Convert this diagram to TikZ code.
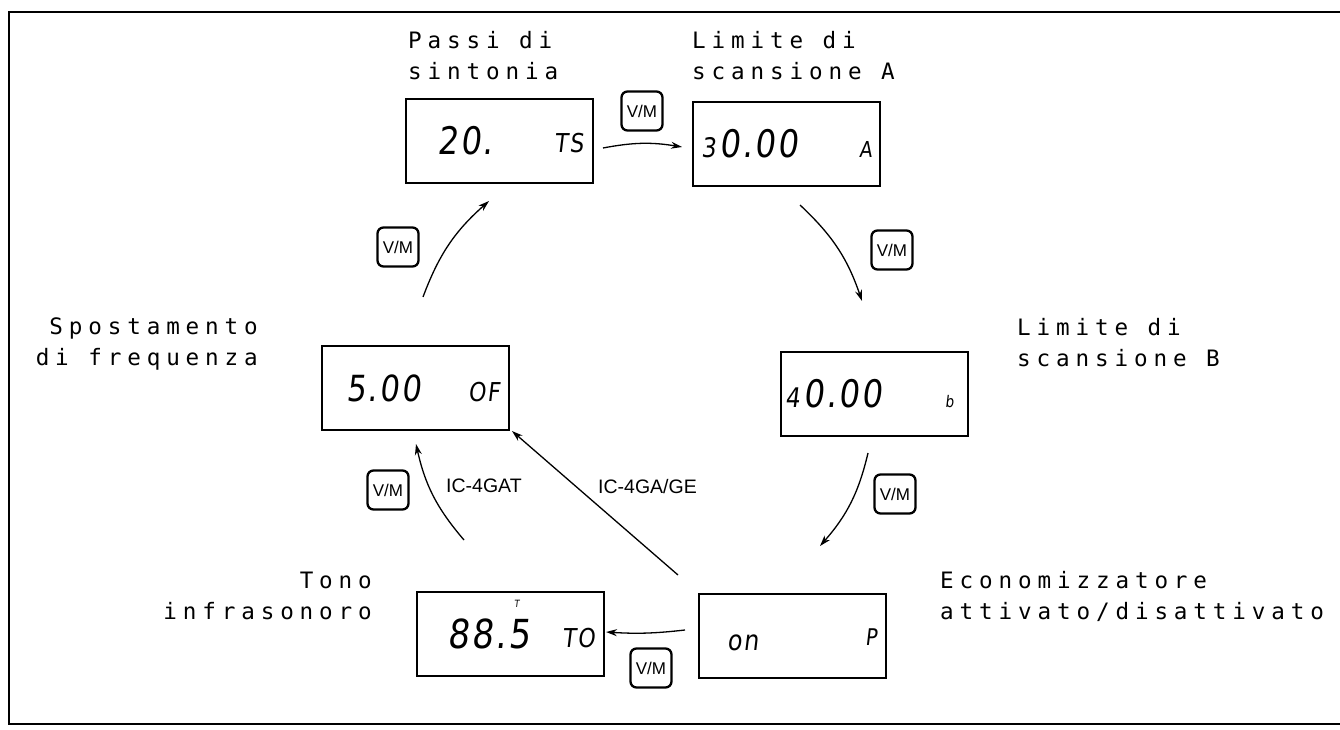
\documentclass[tikz,border=0pt]{standalone}
\usepackage{fontspec}
\usetikzlibrary{arrows.meta}
\newfontfamily\labfont[LetterSpace=26]{DejaVu Sans Mono}
\newfontfamily\lcdfont[FakeSlant=0.12,FakeStretch=0.85,LetterSpace=6]{DejaVu Sans}
\newfontfamily\helv{Liberation Sans}
\begin{document}
\begin{tikzpicture}[x=1pt,y=-1pt,
  lcdbox/.style={draw, line width=2pt, minimum width=187pt, minimum height=84pt, inner sep=0pt},
  lbl/.style={font=\labfont\fontsize{22.6}{26}\selectfont, inner sep=0pt},
  lcd/.style={inner sep=0pt, anchor=base west},
  vmbtn/.style={draw, line width=2.3pt, rounded corners=6pt, minimum width=41pt, minimum height=39pt, inner sep=0pt, font=\helv\fontsize{17}{17}\selectfont},
  conn/.style={line width=1.3pt, -{Stealth[length=11pt,width=7pt]}},
  model/.style={inner sep=0pt, anchor=base west, font=\helv\fontsize{19.5}{20}\selectfont}]
\useasboundingbox (0,0) rectangle (1340,730);
\draw[line width=2pt] (1340,12) -- (9,12) -- (9,724) -- (1340,724);

% display boxes
\node[lcdbox] (ts) at (499,141.5) {};
\node[lcdbox] (a)  at (786,144) {};
\node[lcdbox] (b)  at (874,393.5) {};
\node[lcdbox] (of) at (415.5,388) {};
\node[lcdbox] (to) at (510,633.5) {};
\node[lcdbox] (p)  at (792,635.5) {};

% display contents
\node[lcd, font=\lcdfont\fontsize{38}{38}\selectfont] (tsv) at (437,155) {20.};
\node[lcd, font=\lcdfont\fontsize{26}{26}\selectfont] (tsl) at (554,153) {TS};
\node[lcd, font=\lcdfont\fontsize{27}{27}\selectfont] (av1) at (701,158) {3};
\node[lcd, font=\lcdfont\fontsize{38}{38}\selectfont] (av2) at (719,158) {0.00};
\node[lcd, font=\lcdfont\fontsize{22}{22}\selectfont] (al) at (859,158) {A};
\node[lcd, font=\lcdfont\fontsize{27}{27}\selectfont] (bv1) at (785,407) {4};
\node[lcd, font=\lcdfont\fontsize{38}{38}\selectfont] (bv2) at (803,407) {0.00};
\node[lcd, font=\lcdfont\fontsize{16}{16}\selectfont] (bl) at (945,407) {b};
\node[lcd, font=\lcdfont\fontsize{36}{36}\selectfont] (ofv) at (346,401) {5.00};
\node[lcd, font=\lcdfont\fontsize{26}{26}\selectfont] (ofl) at (468,401) {OF};
\node[lcd, font=\lcdfont\fontsize{40}{40}\selectfont] (tov) at (447,648) {88.5};
\node[lcd, font=\lcdfont\fontsize{26}{26}\selectfont] (tol) at (562,647) {TO};
\node[lcd, font=\lcdfont\fontsize{10}{10}\selectfont] (tot) at (514,607) {T};
\node[lcd, font=\lcdfont\fontsize{28}{28}\selectfont] (pv) at (727,650) {on};
\node[lcd, font=\lcdfont\fontsize{23}{23}\selectfont] (pl) at (865,645) {P};

% labels
\node[lbl, anchor=base west] (l1a) at (408,49) {Passi di};
\node[lbl, anchor=base west] (l1b) at (408,80) {sintonia};
\node[lbl, anchor=base west] (l2a) at (692,49) {Limite di};
\node[lbl, anchor=base west] (l2b) at (692,80) {scansione A};
\node[lbl, anchor=base east] (l3a) at (258,334) {Spostamento};
\node[lbl, anchor=base east] (l3b) at (258,365) {di frequenza};
\node[lbl, anchor=base west] (l4a) at (1017,335) {Limite di};
\node[lbl, anchor=base west] (l4b) at (1017,366) {scansione B};
\node[lbl, anchor=base east] (l5a) at (372,588) {Tono};
\node[lbl, anchor=base east] (l5b) at (372,619) {infrasonoro};
\node[lbl, anchor=base west] (l6a) at (940,588) {Economizzatore};
\node[lbl, anchor=base west] (l6b) at (940,619) {attivato/disattivato};

% model labels
\node[model] (m1) at (446,492) {IC-4GAT};
\node[model] (m2) at (598,493) {IC-4GA/GE};

% V/M buttons
\node[vmbtn] (vm1) at (642,111) {V/M};
\node[vmbtn] (vm2) at (892,250) {V/M};
\node[vmbtn] (vm3) at (895,494) {V/M};
\node[vmbtn] (vm4) at (651,668) {V/M};
\node[vmbtn] (vm5) at (388,490) {V/M};
\node[vmbtn] (vm6) at (398,247) {V/M};

% arrow end points
\coordinate (c1s) at (603,148); \coordinate (c1e) at (682,147);
\coordinate (c2s) at (800,205); \coordinate (c2e) at (862,301);
\coordinate (c3s) at (868,453); \coordinate (c3e) at (820,546);
\coordinate (c4s) at (685,630); \coordinate (c4e) at (606,632);
\coordinate (c5s) at (464,540); \coordinate (c5e) at (416,444);
\coordinate (c6s) at (423,297); \coordinate (c6e) at (489,201);
\coordinate (c7s) at (678,575); \coordinate (c7e) at (512,431);

\draw[conn] (c1s) to[bend left=10] (c1e);
\draw[conn] (c2s) to[bend left=14] (c2e);
\draw[conn] (c3s) to[bend left=14] (c3e);
\draw[conn] (c4s) to[bend left=5] (c4e);
\draw[conn] (c5s) to[bend left=14] (c5e);
\draw[conn] (c6s) to[bend left=14] (c6e);
\draw[conn] (c7s) -- (c7e);
\end{tikzpicture}
\end{document}
